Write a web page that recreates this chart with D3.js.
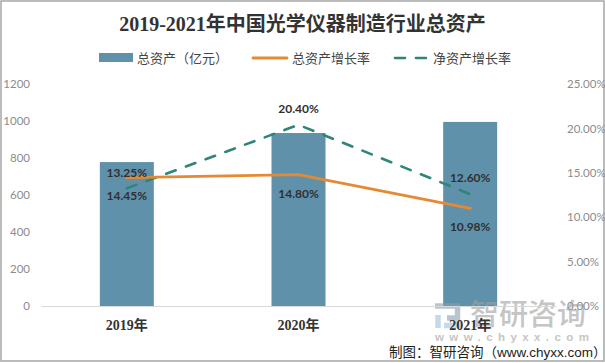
<!DOCTYPE html>
<html><head><meta charset="utf-8">
<script src="https://cdn.jsdelivr.net/npm/d3@7/dist/d3.min.js"></script>
<style>html,body{margin:0;padding:0;background:#fff}svg{display:block}</style>
</head><body><svg id="c" width="605" height="363"></svg>
<script>
const categories = ["2019年","2020年","2021年"];
const totalAssets = [778, 935, 995];
const totalGrowth = [14.45, 14.80, 10.98];
const netGrowth = [13.25, 20.40, 12.60];
const leftTicks = [0,200,400,600,800,1000,1200];
const rightTicks = [0,5,10,15,20,25];
const title = "2019-2021年中国光学仪器制造行业总资产";
const legendNames = ["总资产（亿元）","总资产增长率","净资产增长率"];
const cjk = "'Liberation Sans','Noto Sans CJK SC',sans-serif";
const labelFont = "Lato,'Noto Sans CJK SC',sans-serif";

const svg = d3.select("#c");
svg.append("rect").attr("x",1).attr("y",1).attr("width",603).attr("height",360)
  .attr("fill","#fff").attr("stroke","#a6a6a6").attr("stroke-width",1.5);

const x = d3.scaleBand().domain(categories).range([41,556]);
const yL = d3.scaleLinear().domain([0,1200]).range([306,84]);
const yR = d3.scaleLinear().domain([0,25]).range([306,84]);
const barW = 54;
const cx = d => x(d)+x.bandwidth()/2;

// axis baseline
const axisB = d3.axisBottom(x).tickSize(0).tickPadding(14);
const gB = svg.append("g").attr("transform","translate(0,306)").call(axisB);
gB.select(".domain").attr("stroke","#d9d9d9").attr("stroke-width",1.2);

// left/right axes
const gL = svg.append("g").attr("transform","translate(30,0)")
  .call(d3.axisLeft(yL).tickValues(leftTicks).tickFormat(d3.format("d")).tickSize(0).tickPadding(0));
const gR = svg.append("g").attr("transform","translate(567,0)")
  .call(d3.axisRight(yR).tickValues(rightTicks).tickFormat(d=>d3.format(".2f")(d)+"%").tickSize(0).tickPadding(0));
[gL,gR].forEach(g=>{g.select(".domain").remove();
  g.selectAll("text").attr("font-size",11.5).attr("font-family",labelFont).attr("fill","#8c8c8c");});

// bars
svg.append("g").selectAll("rect").data(categories).join("rect")
  .attr("x",d=>cx(d)-barW/2).attr("width",barW)
  .attr("y",(d,i)=>yL(totalAssets[i])).attr("height",(d,i)=>306-yL(totalAssets[i]))
  .attr("fill","#5f92aa");

// watermark
const wm = svg.append("g").attr("opacity",0.6);
const logo = wm.append("g").attr("fill","none").attr("stroke-width",5.5);
logo.append("path").attr("d","M435 306H457.500V318H447").attr("stroke","#8a9fb3");
logo.append("path").attr("d","M438 315V328").attr("stroke","#9cc3e2");
logo.append("path").attr("d","M457 321V325.500H444").attr("stroke","#9cc3e2");
wm.append("text").attr("x",470).attr("y",325).attr("font-size",29).attr("font-weight",500).attr("font-family","'Noto Sans CJK SC'")
  .attr("fill","#a0a0a0").text("智研咨询");
wm.append("text").attr("x",435).attr("y",341).attr("font-size",11.5).attr("font-weight",700).attr("font-family","'Liberation Sans'")
  .attr("fill","#a0a0a0").attr("letter-spacing",5.4).text("www.chyxx.com");

gB.raise();
gB.selectAll("text").attr("font-size",14).attr("font-weight",700).attr("font-family","'Liberation Serif','Noto Sans CJK SC',serif").attr("fill","#333");

const line = d3.line().x((d,i)=>cx(categories[i])).y(d=>yR(d));
svg.append("path").attr("d",line(netGrowth)).attr("fill","none").attr("stroke","#2f8577")
  .attr("stroke-width",2.6).attr("stroke-dasharray","10 11").attr("stroke-linecap","round");
svg.append("path").attr("d",line(totalGrowth)).attr("fill","none").attr("stroke","#e58a33")
  .attr("stroke-width",2.8).attr("stroke-linecap","round");

// data labels
const fmt = v => d3.format(".2f")(v)+"%";
const netCenterOff = [-15,-16,-16];
const totCenterOff = [18.5,19,19];
const lab = (vals,off)=>svg.append("g").selectAll("text").data(vals).join("text")
  .attr("x",(d,i)=>cx(categories[i])).attr("y",(d,i)=>yR(d)+off[i]+4)
  .attr("text-anchor","middle").attr("font-size",12).attr("font-weight",700)
  .attr("font-family",labelFont).attr("fill","#303030").text(fmt);
lab(netGrowth,netCenterOff);
lab(totalGrowth,totCenterOff);

// title
svg.append("text").attr("x",302.5).attr("y",31).attr("text-anchor","middle")
  .attr("font-size",20).attr("font-weight",700).attr("font-family","'Liberation Serif','Noto Sans CJK SC',serif")
  .attr("fill","#333").text(title);

// legend
const lg = svg.append("g").attr("font-size",13).attr("font-family","'Noto Sans CJK SC'").attr("fill","#444");
lg.append("rect").attr("x",99).attr("y",53).attr("width",34).attr("height",9).attr("fill","#5f92aa");
lg.append("line").attr("x1",253).attr("x2",287).attr("y1",58).attr("y2",58).attr("stroke","#e58a33").attr("stroke-width",2.8).attr("stroke-linecap","round");
lg.append("line").attr("x1",395).attr("x2",426).attr("y1",58).attr("y2",58).attr("stroke","#2f8577").attr("stroke-width",2.6).attr("stroke-dasharray","10 11").attr("stroke-linecap","round");
[137,292,433].forEach((lx,i)=>lg.append("text").attr("x",lx).attr("y",62.5).text(legendNames[i]));

// source
svg.append("text").attr("x",389).attr("y",357).attr("font-size",13.5).attr("font-family",cjk).attr("fill","#222")
  .text("制图：智研咨询（www.chyxx.com）");
</script></body></html>
